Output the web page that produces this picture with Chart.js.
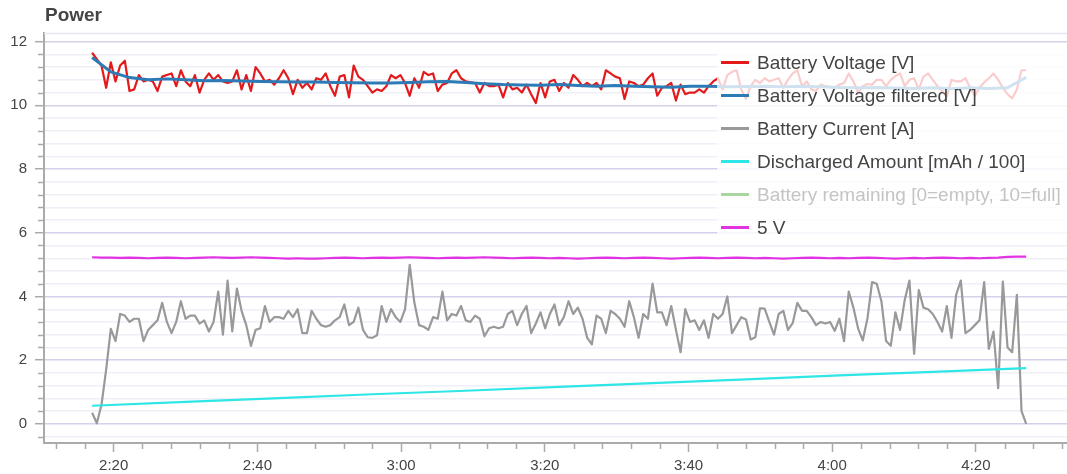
<!DOCTYPE html>
<html>
<head>
<meta charset="utf-8">
<script src="https://cdn.jsdelivr.net/npm/chart.js@4.4.1/dist/chart.umd.min.js"></script>
<style>
  html, body { margin: 0; padding: 0; background: #fff; overflow: hidden; }
  #wrap { position: relative; width: 1067px; height: 474px; overflow: hidden; font-family: "Liberation Sans", Arial, sans-serif; }
  #chart { position: absolute; left: 0; top: 0; }
  #title { position: absolute; left: 45px; top: 3px; font-size: 19px; line-height: 24px; font-weight: bold; color: #444; }
  #legend { position: absolute; left: 717px; top: 46px; width: 380px; height: 196px; background: rgba(255, 255, 255, 0.78); }
  .item { height: 33px; display: flex; align-items: center; font-size: 19px; color: #444; white-space: nowrap; }
  .item.off { color: #c4c4c4; }
  .swatch { width: 28px; height: 3px; margin-left: 4px; margin-right: 8px; }
</style>
</head>
<body>
<div id="wrap">
  <canvas id="chart" width="1100" height="474"></canvas>
  <div id="title">Power</div>
  <div id="legend"></div>
</div>
<script>
// time axis in minutes after midnight, one sample every 0.65 min from 2:17
const startMin = 137.0;
const stepMin = 0.65;

const seriesLabels = [
  'Battery Voltage [V]',
  'Battery Voltage filtered [V]',
  'Battery Current [A]',
  'Discharged Amount [mAh / 100]',
  'Battery remaining [0=empty, 10=full]',
  '5 V'
];

const batteryVoltage = [
  11.65, 11.45, 11.25, 10.55, 11.35, 10.75, 11.25, 11.4, 10.45, 10.5,
  10.95, 10.75, 10.8, 10.75, 10.45, 10.9, 10.95, 11.0, 10.6, 11.1,
  10.75, 10.6, 10.95, 10.4, 10.8, 11.0, 10.8, 10.95, 10.75, 10.7,
  10.75, 11.1, 10.5, 10.95, 10.45, 11.2, 11.0, 10.75, 10.8, 10.65,
  10.85, 11.1, 10.85, 10.35, 10.8, 10.55, 10.7, 10.5, 10.85, 10.8,
  11.0, 10.6, 10.3, 10.9, 10.95, 10.25, 11.25, 10.9, 10.8, 10.6,
  10.4, 10.5, 10.45, 10.6, 10.95, 10.85, 10.95, 10.7, 10.3, 10.85,
  10.55, 11.05, 10.95, 11.0, 10.45, 10.65, 10.7, 11.0, 11.1, 10.85,
  10.75, 10.72, 10.7, 10.4, 10.7, 10.6, 10.6, 10.65, 10.25, 10.7,
  10.5, 10.55, 10.4, 10.65, 10.35, 10.07, 10.7, 10.25, 10.75, 10.8,
  10.45, 10.7, 10.55, 10.95, 10.8, 10.6, 10.7, 10.6, 10.7, 10.5,
  11.1, 11.0, 10.9, 10.85, 10.2, 10.75, 10.7, 10.6, 10.65, 10.85,
  11.0, 10.3, 10.55, 10.6, 10.7, 10.15, 10.65, 10.35, 10.4, 10.4,
  10.5, 10.4, 10.6, 10.75, 10.85, 10.5, 10.95, 11.05, 11.1, 10.5,
  10.2, 10.6, 10.8, 10.7, 10.85, 10.75, 10.8, 10.85, 10.55, 10.8,
  11.0, 11.1, 10.6, 10.75, 10.5, 10.45, 10.65, 10.6, 10.58, 10.55,
  10.65, 10.7, 11.0, 10.75, 10.4, 10.6, 10.67, 10.65, 10.8, 10.8,
  10.6, 10.8, 10.92, 11.0, 10.6, 10.8, 10.85, 10.5, 10.9, 11.0,
  10.8, 10.6, 10.45, 10.27, 10.8, 10.75, 10.75, 10.85, 10.55, 10.3,
  10.55, 10.72, 10.85, 11.0, 10.8, 10.55, 10.35, 10.22, 10.5, 11.1,
  11.1
];

const batteryCurrent = [
  0.35, 0.02, 0.6, 1.7, 2.98, 2.6, 3.45, 3.4, 3.2, 3.3,
  3.3, 2.6, 2.95, 3.1, 3.25, 3.8, 3.2, 2.85, 3.2, 3.85,
  3.3, 3.4, 3.4, 3.15, 3.25, 2.9, 3.2, 4.15, 2.8, 4.5,
  2.9, 4.25, 3.55, 3.1, 2.45, 2.95, 3.0, 3.7, 3.2, 3.35,
  3.35, 3.3, 3.55, 3.35, 3.6, 2.85, 2.85, 3.55, 3.3, 3.1,
  3.05, 3.1, 3.25, 3.35, 3.75, 3.1, 3.2, 3.65, 2.95, 2.72,
  2.7, 2.78, 3.7, 3.2, 3.6, 3.35, 3.2, 3.6, 4.99, 3.8,
  3.1, 3.05, 2.95, 3.35, 3.3, 4.15, 3.25, 3.45, 3.4, 3.7,
  3.25, 3.2, 3.4, 3.3, 2.75, 3.0, 3.05, 3.0, 3.05, 3.45,
  3.55, 3.1, 3.45, 3.7, 2.85, 3.15, 3.5, 3.0, 3.45, 3.75,
  3.1, 3.35, 3.85, 3.45, 3.65, 3.3, 2.7, 2.5, 3.4, 3.3,
  2.85, 3.55, 3.45, 3.3, 3.05, 3.85, 3.35, 2.7, 3.45, 3.3,
  4.4, 3.5, 3.5, 3.1, 3.7, 2.95, 2.25, 3.6, 3.2, 3.25,
  2.95, 3.25, 2.7, 3.45, 3.3, 3.45, 4.0, 2.85, 3.1, 3.35,
  3.28, 2.65, 2.72, 3.63, 3.62, 3.2, 2.8, 3.45, 3.55, 2.95,
  3.16, 3.8, 3.55, 3.55, 3.35, 3.1, 3.2, 3.15, 3.2, 2.92,
  3.3, 2.6, 4.15, 3.65, 3.0, 2.62, 3.3, 4.45, 4.4, 3.85,
  2.6, 2.45, 3.5, 2.95, 3.9, 4.5, 2.2, 4.2, 3.65, 3.6,
  3.45, 3.2, 2.9, 3.7, 2.7, 4.05, 4.5, 2.85, 2.95, 3.1,
  3.25, 4.45, 2.35, 2.9, 1.12, 4.47, 2.4, 2.25, 4.05, 0.4,
  0.0
];

// filtered voltage, one sample every 2.6 min
const filteredStep = 2.6;
const batteryVoltageFiltered = [
  11.5, 11.05, 10.87, 10.8, 10.83, 10.8, 10.77, 10.78, 10.76, 10.75,
  10.74, 10.73, 10.73, 10.72, 10.71, 10.7, 10.7, 10.72, 10.74, 10.75,
  10.72, 10.68, 10.65, 10.64, 10.63, 10.65, 10.62, 10.6, 10.62, 10.6,
  10.58, 10.57, 10.6, 10.6, 10.58, 10.59, 10.6, 10.58, 10.6, 10.58,
  10.56, 10.55, 10.56, 10.54, 10.53, 10.55, 10.52, 10.55, 10.53, 10.55,
  10.88
];

// discharged amount, one sample every 13 min
const dischargedStep = 13;
const dischargedAmount = [0.57, 0.69, 0.81, 0.93, 1.04, 1.16, 1.28, 1.40, 1.52, 1.63, 1.75];

// hidden in the reference legend
const batteryRemaining = [];

// 5 V rail, one sample every 1.3 min
const railStep = 1.3;
const rail5V = [
  5.23, 5.22, 5.22, 5.21, 5.22, 5.21, 5.20, 5.21, 5.22, 5.21, 5.20, 5.21, 5.22, 5.23, 5.22, 5.21, 5.22, 5.23, 5.22, 5.21,
  5.20, 5.19, 5.20, 5.19, 5.19, 5.20, 5.21, 5.22, 5.21, 5.20, 5.21, 5.22, 5.21, 5.22, 5.23, 5.22, 5.21, 5.20, 5.21, 5.22,
  5.21, 5.22, 5.23, 5.22, 5.21, 5.20, 5.21, 5.22, 5.21, 5.20, 5.21, 5.20, 5.19, 5.20, 5.21, 5.22, 5.21, 5.20, 5.21, 5.22,
  5.21, 5.20, 5.19, 5.20, 5.21, 5.22, 5.21, 5.20, 5.21, 5.22, 5.21, 5.20, 5.21, 5.20, 5.19, 5.20, 5.21, 5.22, 5.21, 5.20,
  5.21, 5.20, 5.21, 5.22, 5.21, 5.20, 5.19, 5.20, 5.21, 5.20, 5.21, 5.22, 5.21, 5.20, 5.21, 5.20, 5.21, 5.22, 5.24, 5.25, 5.25
];

const colors = ['#e31a1c', '#2c7bb6', '#999999', '#2ee6e6', '#a9d6a0', '#e233e2'];
const widths = [2.2, 3, 2.2, 2.2, 2.2, 2.2];
const axisGray = '#aaaaaa';

const toXY = (vals, step) => vals.map((v, i) => ({ x: startMin + i * step, y: v }));
const seriesData = [
  toXY(batteryVoltage, stepMin),
  toXY(batteryVoltageFiltered, filteredStep),
  toXY(batteryCurrent, stepMin),
  toXY(dischargedAmount, dischargedStep),
  toXY(batteryRemaining, stepMin),
  toXY(rail5V, railStep)
];
const hiddenSeries = [false, false, false, false, true, false];

const isMajorX = v => Math.abs(v % 20) < 1e-6;
const isMajorY = v => Math.abs(v / 2 - Math.round(v / 2)) < 1e-6;
const fmtTime = v => Math.floor(v / 60) + ':' + String(Math.round(v % 60)).padStart(2, '0');

// minor tick marks are shorter than the major ones, plus a faint frame line on top
const minorTicks = {
  id: 'minorTicks',
  beforeDatasetsDraw(chart) {
    const { ctx, chartArea } = chart;
    ctx.save();
    ctx.strokeStyle = '#e6e6f2';
    ctx.lineWidth = 1.4;
    ctx.beginPath();
    ctx.moveTo(chartArea.left, chartArea.top + 0.5);
    ctx.lineTo(chartArea.right, chartArea.top + 0.5);
    ctx.stroke();
    ctx.restore();
  },
  afterDraw(chart) {
    const { ctx, chartArea, scales } = chart;
    ctx.save();
    ctx.strokeStyle = axisGray;
    ctx.lineWidth = 1.5;
    ctx.beginPath();
    scales.x.ticks.forEach(t => {
      if (isMajorX(t.value)) return;
      const px = Math.round(scales.x.getPixelForValue(t.value)) + 0.5;
      ctx.moveTo(px, chartArea.bottom);
      ctx.lineTo(px, chartArea.bottom + 6);
    });
    scales.y.ticks.forEach(t => {
      if (isMajorY(t.value)) return;
      const py = Math.round(scales.y.getPixelForValue(t.value)) + 0.5;
      ctx.moveTo(chartArea.left - 6, py);
      ctx.lineTo(chartArea.left, py);
    });
    ctx.stroke();
    ctx.restore();
  }
};

const tickFont = { family: '"Liberation Sans", Arial, sans-serif', size: 15 };

new Chart(document.getElementById('chart'), {
  type: 'line',
  data: {
    datasets: seriesLabels.map((label, i) => ({
      label,
      data: seriesData[i],
      hidden: hiddenSeries[i],
      borderColor: colors[i],
      backgroundColor: colors[i],
      borderWidth: widths[i],
      pointRadius: 0,
      tension: 0,
      fill: false,
      borderJoinStyle: 'round',
      order: seriesLabels.length - i
    }))
  },
  options: {
    responsive: false,
    animation: false,
    events: [],
    layout: { padding: { left: 10, right: 10, top: 33, bottom: 0 } },
    plugins: { legend: { display: false }, tooltip: { enabled: false } },
    scales: {
      x: {
        type: 'linear',
        min: 130.3,
        max: 275.88,
        afterFit: s => { s.height = 31; },
        border: { color: axisGray, width: 2 },
        grid: {
          drawOnChartArea: false,
          tickLength: 9,
          tickWidth: 1.5,
          tickColor: c => isMajorX(c.tick.value) ? axisGray : 'transparent'
        },
        ticks: {
          stepSize: 4,
          includeBounds: false,
          autoSkip: false,
          maxRotation: 0,
          padding: 5,
          color: '#444',
          font: tickFont,
          callback: v => isMajorX(v) ? fmtTime(v) : ''
        }
      },
      y: {
        min: -0.6,
        max: 12.27,
        afterFit: s => { s.width = 34; },
        border: { color: axisGray, width: 2 },
        grid: {
          lineWidth: 1.4,
          color: c => isMajorY(c.tick.value) ? '#d2d2ec' : '#efeff7',
          tickLength: 9,
          tickWidth: 1.5,
          tickColor: c => isMajorY(c.tick.value) ? axisGray : 'transparent'
        },
        ticks: {
          stepSize: 0.4,
          includeBounds: false,
          autoSkip: false,
          padding: 8,
          color: '#444',
          font: tickFont,
          callback: v => isMajorY(v) ? String(Math.round(v)) : ''
        }
      }
    }
  },
  plugins: [minorTicks]
});

// legend box drawn over the plot, like the reference
const legend = document.getElementById('legend');
seriesLabels.forEach((label, i) => {
  const row = document.createElement('div');
  row.className = 'item' + (hiddenSeries[i] ? ' off' : '');
  const sw = document.createElement('span');
  sw.className = 'swatch';
  sw.style.background = colors[i];
  const txt = document.createElement('span');
  txt.textContent = label;
  row.appendChild(sw);
  row.appendChild(txt);
  legend.appendChild(row);
});
</script>
</body>
</html>
